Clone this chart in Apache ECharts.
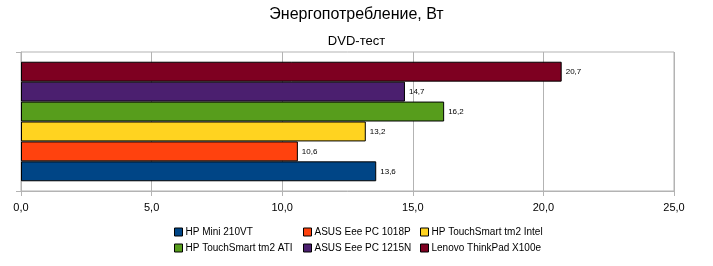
<!DOCTYPE html>
<html><head><meta charset="utf-8">
<script src="https://cdn.jsdelivr.net/npm/echarts@6/dist/echarts.min.js"></script>
<style>html,body{margin:0;padding:0;background:#fff}#c{width:713px;height:266px}</style>
</head><body><div id="c"></div>
<script>
const titleText = "Энергопотребление, Вт";
const subtitleText = "DVD-тест";
const seriesNames = ["HP Mini 210VT","ASUS Eee PC 1018P","HP TouchSmart tm2 Intel","HP TouchSmart tm2 ATI","ASUS Eee PC 1215N","Lenovo ThinkPad X100e"];
const seriesValues = [13.6, 10.6, 13.2, 16.2, 14.7, 20.7];
const seriesColors = ["#004586","#ff420e","#ffd320","#579d1c","#4b1f6f","#7e0021"];
const xTicks = [0, 5, 10, 15, 20, 25];

const fmt = v => v.toFixed(1).replace('.', ',');
const chart = echarts.init(document.getElementById('c'), null, {renderer:'canvas'});
const font = 'Liberation Sans, Arial, sans-serif';
const order = seriesNames.map((n,i)=>i).reverse();
const series = order.map(i=>({
  name:seriesNames[i], type:'bar', data:[seriesValues[i]],
  barGap:'0%', barCategoryGap:'14%',
  itemStyle:{color:seriesColors[i], borderColor:'#000', borderWidth:1},
  label:{show:true, position:'right', distance:4, formatter:p=>fmt(p.value), fontSize:8, color:'#000', fontFamily:font},
  animation:false
}));
const legendCols = [[0,3],[1,4],[2,5]];
const legendLeft = [174, 303, 420];
chart.setOption({
  animation:false,
  title:[
    {text:titleText, left:'center', top:2, textStyle:{fontSize:16, fontWeight:'normal', color:'#000', fontFamily:font}},
    {text:subtitleText, left:'center', top:30, textStyle:{fontSize:13, fontWeight:'normal', color:'#000', fontFamily:font}}
  ],
  legend: legendCols.map((c,i)=>({
    data:c.map(k=>seriesNames[k]), orient:'vertical', left:legendLeft[i], top:227,
    itemWidth:8, itemHeight:8, itemGap:6,
    icon:'rect',
    textStyle:{fontSize:10, color:'#000', fontFamily:font, padding:[0,0,0,-2]},
    itemStyle:{borderColor:'#000', borderWidth:1},
    padding:0, selectedMode:false
  })),
  grid:{left:21, right:39, top:52, bottom:75, show:true, borderColor:'#b3b3b3', borderWidth:1, containLabel:false},
  xAxis:{type:'value', min:xTicks[0], max:xTicks[xTicks.length-1], interval:5,
    axisLine:{show:true, lineStyle:{color:'#b3b3b3'}},
    axisTick:{show:true, length:5, lineStyle:{color:'#b3b3b3'}},
    splitLine:{show:true, lineStyle:{color:'#b3b3b3'}},
    axisLabel:{formatter:v=>fmt(v), fontSize:11, color:'#000', fontFamily:font, margin:11}},
  yAxis:{type:'category', data:[''],
    axisLine:{show:true, lineStyle:{color:'#b3b3b3'}},
    axisTick:{show:true, length:5, lineStyle:{color:'#b3b3b3'}},
    axisLabel:{show:false}, splitLine:{show:false}},
  series:series
});
</script></body></html>
